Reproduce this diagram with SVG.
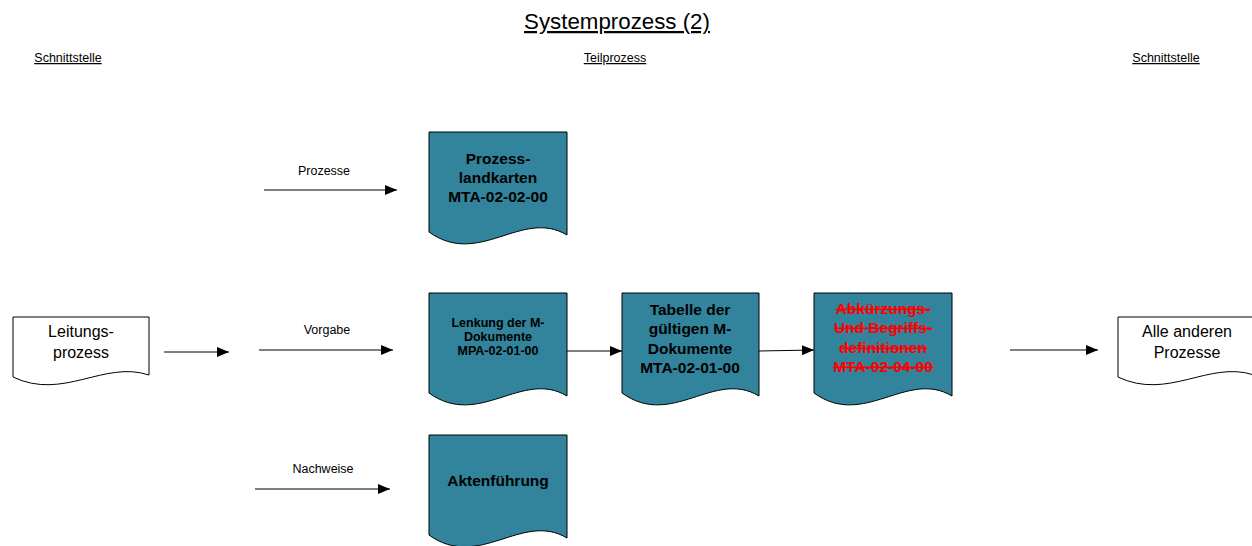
<svg xmlns="http://www.w3.org/2000/svg" width="1252" height="546" viewBox="0 0 1252 546">
<style>
text{font-family:"Liberation Sans",Arial,sans-serif;fill:#000}
.title{font-size:22.3px;text-decoration:underline}
.hdr{font-size:12.5px;text-decoration:underline}
.lbl{font-size:12.5px}
.doc{fill:#31849b;stroke:#000;stroke-width:1}
.wdoc{fill:#fff;stroke:#000;stroke-width:1}
.b15{font-size:15.5px;font-weight:bold}
.b12{font-size:12.5px;font-weight:bold}
.n16{font-size:16px}
.red{fill:#ff0000;text-decoration:line-through}
.con{stroke:#000;stroke-width:1;fill:none;marker-end:url(#ah)}
</style>
<defs>
<marker id="ah" markerUnits="userSpaceOnUse" markerWidth="12" markerHeight="10" refX="12" refY="5" orient="auto">
<path d="M0,0 L12,5 L0,10 z" fill="#000"/>
</marker>
</defs>
<rect width="1252" height="546" fill="#fff"/>
<text class="title" x="617" y="29" text-anchor="middle">Systemprozess (2)</text>
<text class="hdr" x="68" y="62" text-anchor="middle">Schnittstelle</text>
<text class="hdr" x="615" y="62" text-anchor="middle">Teilprozess</text>
<text class="hdr" x="1166" y="62" text-anchor="middle">Schnittstelle</text>

<g id="connectors">
<line class="con" x1="264" y1="190" x2="397" y2="190"/>
<text class="lbl" x="324" y="175" text-anchor="middle">Prozesse</text>
<line class="con" x1="164" y1="352" x2="229" y2="352"/>
<line class="con" x1="259" y1="350" x2="393" y2="350"/>
<text class="lbl" x="327" y="334" text-anchor="middle">Vorgabe</text>
<line class="con" x1="567" y1="351" x2="622" y2="351"/>
<line class="con" x1="759" y1="351" x2="814" y2="350"/>
<line class="con" x1="1010" y1="350" x2="1098" y2="350"/>
<line class="con" x1="255" y1="489" x2="390" y2="489"/>
<text class="lbl" x="323" y="473" text-anchor="middle">Nachweise</text>
</g>

<g id="prozesslandkarten">
<path class="doc" d="M429,132 H567 V235 C522,208 479,268 429,232 Z"/>
<text class="b15" x="498" y="164" text-anchor="middle">Prozess-</text>
<text class="b15" x="498" y="183" text-anchor="middle">landkarten</text>
<text class="b15" x="498" y="202" text-anchor="middle">MTA-02-02-00</text>
</g>

<g id="lenkung">
<path class="doc" d="M429,293 H567 V396 C522,369 479,429 429,393 Z"/>
<text class="b12" x="498" y="327" text-anchor="middle">Lenkung der M-</text>
<text class="b12" x="498" y="341" text-anchor="middle">Dokumente</text>
<text class="b12" x="498" y="355" text-anchor="middle">MPA-02-01-00</text>
</g>

<g id="tabelle">
<path class="doc" d="M622,293 H759 V396 C714,369 672,429 622,393 Z"/>
<text class="b15" x="690" y="315" text-anchor="middle">Tabelle der</text>
<text class="b15" x="690" y="334" text-anchor="middle">gültigen M-</text>
<text class="b15" x="690" y="354" text-anchor="middle">Dokumente</text>
<text class="b15" x="690" y="373" text-anchor="middle">MTA-02-01-00</text>
</g>

<g id="abkuerzungen">
<path class="doc" d="M814,293 H952 V396 C907,369 864,429 814,393 Z"/>
<text class="b15 red" x="883" y="314" text-anchor="middle">Abkürzungs-</text>
<text class="b15 red" x="883" y="333" text-anchor="middle">Und Begriffs-</text>
<text class="b15 red" x="883" y="353" text-anchor="middle">definitionen</text>
<text class="b15 red" x="883" y="372" text-anchor="middle">MTA-02-04-00</text>
</g>

<g id="aktenfuehrung">
<path class="doc" d="M429,435 H567 V538 C522,511 479,571 429,535 Z"/>
<text class="b15" x="498" y="486" text-anchor="middle">Aktenführung</text>
</g>

<g id="leitungsprozess">
<path class="wdoc" d="M13,317 H149 V375 C104,360 63,401 13,377 Z"/>
<text class="n16" x="81" y="337" text-anchor="middle">Leitungs-</text>
<text class="n16" x="81" y="358" text-anchor="middle">prozess</text>
</g>

<g id="alle-anderen">
<path class="wdoc" d="M1118,317 H1254 V375 C1209,360 1168,401 1118,377 Z"/>
<text class="n16" x="1187" y="337" text-anchor="middle">Alle anderen</text>
<text class="n16" x="1187" y="358" text-anchor="middle">Prozesse</text>
</g>
</svg>
